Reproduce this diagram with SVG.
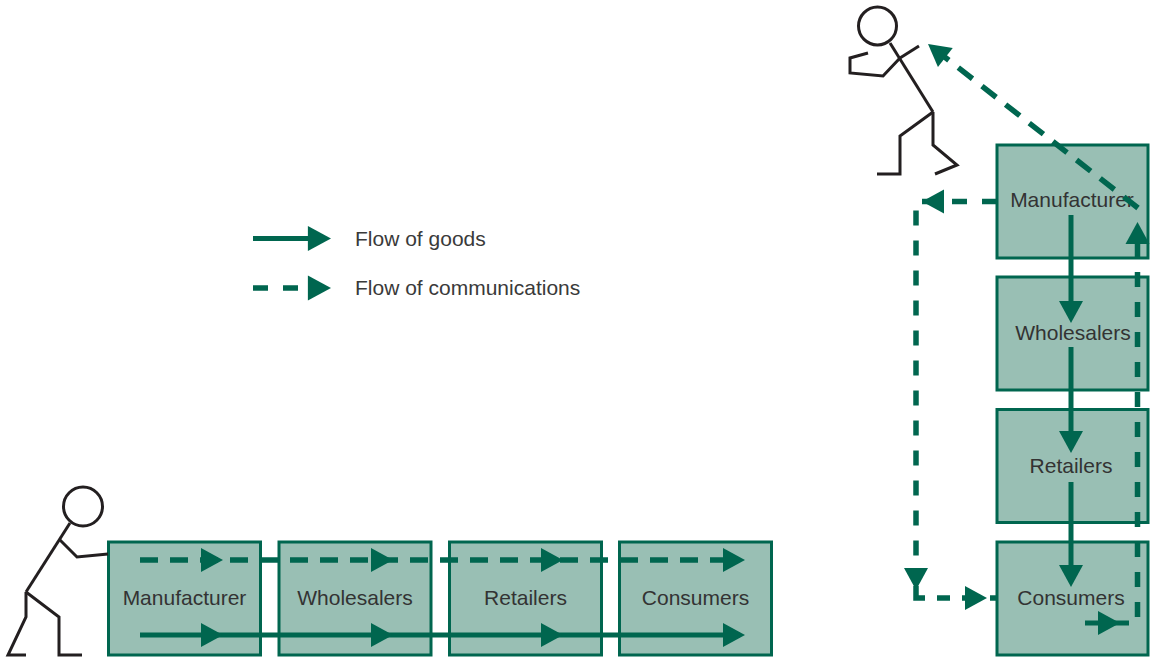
<svg xmlns="http://www.w3.org/2000/svg" xmlns:xlink="http://www.w3.org/1999/xlink" width="1151" height="658" viewBox="0 0 1151 658">
  <style>
    .box { fill: #99bfb4; stroke: #00664f; stroke-width: 3; }
    .label { font-family: "Liberation Sans", Arial, sans-serif; font-size: 21px; fill: #333333; text-anchor: middle; }
    .legend { font-family: "Liberation Sans", Arial, sans-serif; font-size: 21px; fill: #3a3a3a; }
    .goods { fill: none; stroke: #00664f; stroke-width: 5; }
    .comms { fill: none; stroke: #00664f; stroke-width: 5.5; stroke-dasharray: 18 12; }
    .comms-v { fill: none; stroke: #00664f; stroke-width: 5.5; stroke-dasharray: 15 15; }
    .solid { fill: none; stroke: #00664f; stroke-width: 5.5; }
    .head { fill: #00664f; }
    .figure { fill: none; stroke: #231f20; stroke-width: 3; stroke-linejoin: miter; }
  </style>
  <defs>
    <!-- arrowhead pointing right, tip at origin -->
    <path id="ah" class="head" d="M0,0 L-22,-12 L-22,12 Z"/>
  </defs>

  <rect width="1151" height="658" fill="#ffffff"/>

  <!-- legend -->
  <g id="legend">
    <line class="goods" x1="253" y1="238.5" x2="312" y2="238.5"/>
    <use xlink:href="#ah" transform="translate(331,238.5) scale(1.05)"/>
    <text class="legend" x="355" y="245.5">Flow of goods</text>
    <line class="comms" x1="253" y1="288" x2="312" y2="288" style="stroke-dasharray:15 15"/>
    <use xlink:href="#ah" transform="translate(331,288) scale(1.05)"/>
    <text class="legend" x="355" y="295">Flow of communications</text>
  </g>

  <!-- horizontal chain -->
  <g id="h-manufacturer">
    <rect class="box" x="108.5" y="542" width="152" height="113"/>
    <text class="label" x="184.5" y="605">Manufacturer</text>
  </g>
  <g id="h-wholesalers">
    <rect class="box" x="279" y="542" width="152" height="113"/>
    <text class="label" x="355" y="605">Wholesalers</text>
  </g>
  <g id="h-retailers">
    <rect class="box" x="449.5" y="542" width="152" height="113"/>
    <text class="label" x="525.5" y="605">Retailers</text>
  </g>
  <g id="h-consumers">
    <rect class="box" x="619.5" y="542" width="152" height="113"/>
    <text class="label" x="695.5" y="605">Consumers</text>
  </g>

  <!-- vertical chain -->
  <g id="v-manufacturer">
    <rect class="box" x="997" y="145" width="151" height="113"/>
    <text class="label" x="1072" y="207">Manufacturer</text>
  </g>
  <g id="v-wholesalers">
    <rect class="box" x="997" y="277" width="151" height="113"/>
    <text class="label" x="1073" y="340">Wholesalers</text>
  </g>
  <g id="v-retailers">
    <rect class="box" x="997" y="409.5" width="151" height="113"/>
    <text class="label" x="1071" y="473">Retailers</text>
  </g>
  <g id="v-consumers">
    <rect class="box" x="997" y="542" width="151" height="113"/>
    <text class="label" x="1071" y="605">Consumers</text>
  </g>

  <!-- connectors -->
  <g id="connectors">
    <!-- horizontal chain: communications -->
    <line class="comms" x1="140" y1="560" x2="740" y2="560"/>
    <use xlink:href="#ah" transform="translate(223,560)"/>
    <use xlink:href="#ah" transform="translate(393,560)"/>
    <use xlink:href="#ah" transform="translate(563,560)"/>
    <use xlink:href="#ah" transform="translate(745,560)"/>
    <!-- horizontal chain: goods -->
    <line class="goods" x1="140" y1="635" x2="740" y2="635"/>
    <use xlink:href="#ah" transform="translate(223,635)"/>
    <use xlink:href="#ah" transform="translate(393,635)"/>
    <use xlink:href="#ah" transform="translate(563,635)"/>
    <use xlink:href="#ah" transform="translate(745,635)"/>

    <!-- vertical chain: goods -->
    <line class="goods" x1="1071" y1="215" x2="1071" y2="305"/>
    <use xlink:href="#ah" transform="translate(1071,323) rotate(90)"/>
    <line class="goods" x1="1071" y1="347" x2="1071" y2="435"/>
    <use xlink:href="#ah" transform="translate(1071,453) rotate(90)"/>
    <line class="goods" x1="1071" y1="482" x2="1071" y2="570"/>
    <use xlink:href="#ah" transform="translate(1071,587) rotate(90)"/>

    <!-- goods reaching consumers, then feedback upwards -->
    <line class="goods" x1="1085" y1="623" x2="1129" y2="623"/>
    <use xlink:href="#ah" transform="translate(1120,623)"/>
    <line class="comms-v" x1="1137.5" y1="617" x2="1137.5" y2="238"/>
    <use xlink:href="#ah" transform="translate(1137.5,222) rotate(-90)"/>

    <!-- feedback to the climbing figure -->
    <line class="comms" x1="1138" y1="208" x2="944" y2="56.5"/>
    <use xlink:href="#ah" transform="translate(928,44) rotate(-142)"/>

    <!-- manufacturer to consumers, left loop -->
    <polyline class="comms-v" points="997,201.5 916,201.5 916,580"/>
    <use xlink:href="#ah" transform="translate(922,201.5) rotate(180)"/>
    <use xlink:href="#ah" transform="translate(916,590) rotate(90)"/>
    <polyline class="solid" points="916,586 916,598 925,598"/>
    <line class="solid" x1="937" y1="598" x2="950" y2="598"/>
    <line class="solid" x1="962" y1="598" x2="975" y2="598"/>
    <use xlink:href="#ah" transform="translate(987,598)"/>
    <line class="solid" x1="990" y1="598" x2="997" y2="598"/>
  </g>

  <!-- pushing figure -->
  <g id="figure-pusher" class="figure">
    <circle cx="83" cy="506.5" r="19.5"/>
    <polyline points="70,523 26,592"/>
    <polyline points="60,540 77,557 108,554"/>
    <polyline points="26,592 26,617 8,655 26,655"/>
    <polyline points="26,592 59,617 59,655 82,655"/>
  </g>

  <!-- climbing figure -->
  <g id="figure-climber" class="figure">
    <circle cx="877.5" cy="26" r="19"/>
    <polyline points="890,43 933,112"/>
    <polyline points="900,58 919,46"/>
    <polyline points="900,58 883,76 850,73 850,58 868,53"/>
    <polyline points="933,112 900,136 900,174 877,174"/>
    <polyline points="933,112 933,145 957,165 935,174"/>
  </g>
</svg>
